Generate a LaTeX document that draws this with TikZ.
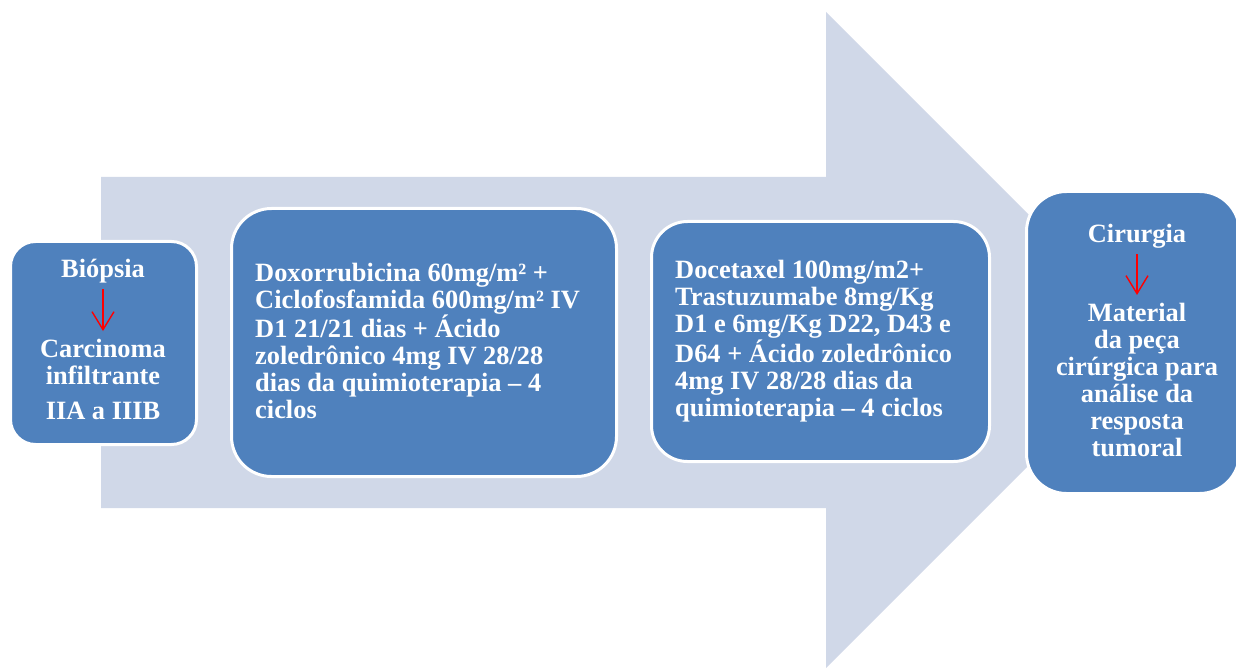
\documentclass[tikz,border=0pt]{standalone}
\usepackage{fontspec}
\setmainfont{Liberation Serif}
\usetikzlibrary{arrows.meta}
\definecolor{boxblue}{HTML}{4F81BD}
\definecolor{flowgrey}{HTML}{D0D8E8}
\definecolor{pointred}{HTML}{FF0000}
\begin{document}
\begin{tikzpicture}[x=1pt,y=-1pt,
  stage/.style={draw=white, line width=3pt, fill=boxblue, inner sep=0pt},
  label/.style={text=white, inner sep=0pt, font=\bfseries\fontsize{26.4}{27}\selectfont},
  downarrow/.style={draw=pointred, line width=1.4pt,
    -{Straight Barb[length=18pt,width=22pt,line width=1.4pt]}}]
  \useasboundingbox (0,0) rectangle (1236,668);
  \clip (0,0) rectangle (1236,668);

  % broad background arrow
  \fill[flowgrey] (101,177) -- (826,177) -- (826,12) -- (1154,340)
    -- (826,668) -- (826,508) -- (101,508) -- cycle;

  % stage boxes
  \node[stage, rounded corners=25pt, minimum width=186pt, minimum height=203pt] (s1) at (103.5,343) {};
  \node[stage, rounded corners=40pt, minimum width=385pt, minimum height=268pt] (s2) at (424,342.5) {};
  \node[stage, rounded corners=36pt, minimum width=338pt, minimum height=240pt] (s3) at (820.5,341.5) {};
  \node[stage, rounded corners=40pt, minimum width=213pt, minimum height=302pt] (s4) at (1133,342.5) {};

  % first stage
  \node[label] (biop) at (103,271) {Biópsia};
  \node[label, align=center] (carc) at (103,362) {Carcinoma\\infiltrante};
  \node[label] (stagei) at (103,411) {IIA a IIIB};
  \draw[downarrow, shorten <=6pt, shorten >=8pt] (biop.south) -- (carc.north);

  % chemotherapy stages
  \node[label, align=left, anchor=west] (chemo1) at (255,341) {Doxorrubicina 60mg/m² +\\Ciclofosfamida 600mg/m² IV\\D1 21/21 dias + Ácido\\zoledrônico 4mg IV 28/28\\dias da quimioterapia – 4\\ciclos};
  \node[label, align=left, anchor=west] (chemo2) at (675,341) {Docetaxel 100mg/m2+\\Trastuzumabe 8mg/Kg\\D1 e 6mg/Kg D22, D43 e\\D64 + Ácido zoledrônico\\4mg IV 28/28 dias da\\quimioterapia – 4 ciclos};

  % surgery stage
  \node[label] (cir) at (1137,236) {Cirurgia};
  \node[label, align=center] (mat) at (1137,380) {Material\\da peça\\cirúrgica para\\análise da\\resposta\\tumoral};
  \draw[downarrow, shorten <=6pt, shorten >=8pt] (cir.south) -- (mat.north);
\end{tikzpicture}
\end{document}
